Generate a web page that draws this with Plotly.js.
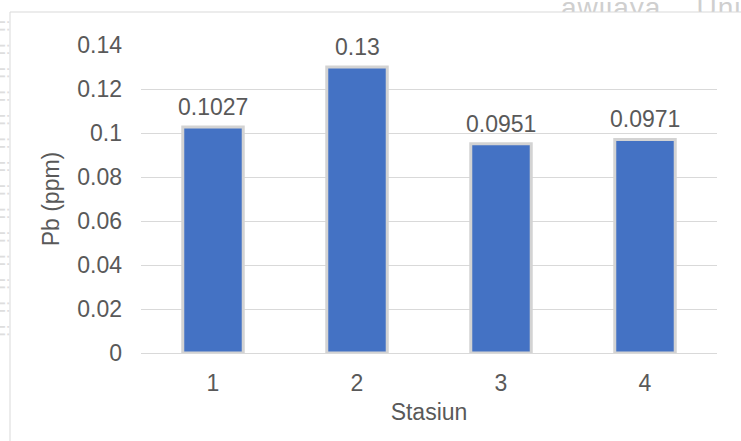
<!DOCTYPE html>
<html>
<head>
<meta charset="utf-8">
<script src="https://cdn.plot.ly/plotly-3.0.1.min.js"></script>
<style>
  html, body { margin: 0; padding: 0; background: #ffffff; }
  #wrap { position: relative; width: 741px; height: 441px; overflow: hidden; background: #ffffff; }
  #mark-top {
    position: absolute; left: 561px; top: -8px;
    font-family: "Liberation Sans", Arial, sans-serif; font-size: 28px;
    color: #cfcfcf; white-space: pre; letter-spacing: 1px;
  }
  #mark-left {
    position: absolute; left: -10px; top: 20px;
    transform-origin: 0 0; transform: rotate(90deg) translate(0, -22px);
    font-family: "Liberation Sans", Arial, sans-serif; font-size: 20px;
    color: #dedede; white-space: pre; letter-spacing: 3px;
  }
  #chart { position: absolute; left: 0; top: 0; width: 741px; height: 441px; }
</style>
</head>
<body>
<div id="wrap">
  <div id="mark-top">awijaya    Univ</div>
  <div id="mark-left">ij ij ij ij ij ij ij ij ij ij ij ij ij ij</div>
  <div id="chart"></div>
</div>
<script>
// Lead (Pb) concentration per sampling station
const stations = ['1', '2', '3', '4'];
const pbValues = [0.1027, 0.13, 0.0951, 0.0971];
const valueLabels = ['0.1027', '0.13', '0.0951', '0.0971'];
const yTickValues = [0, 0.02, 0.04, 0.06, 0.08, 0.1, 0.12, 0.14];
const yTickLabels = ['0', '0.02', '0.04', '0.06', '0.08', '0.1', '0.12', '0.14'];

const textColor = '#595959';
const fontFamily = '"Liberation Sans", Arial, sans-serif';
const fontSize = 23;

const trace = {
  type: 'bar',
  x: stations,
  y: pbValues,
  width: 0.42,
  marker: {
    color: '#4472C4',
    line: { color: '#d3d3d3', width: 3 }
  },
  hoverinfo: 'none'
};

// value labels above each bar (category index on x)
const labelAnnotations = stations.map((s, i) => ({
  x: i,
  y: pbValues[i],
  xref: 'x',
  yref: 'y',
  text: valueLabels[i],
  showarrow: false,
  yanchor: 'bottom',
  yshift: 5,
  font: { family: fontFamily, size: fontSize, color: textColor }
}));

// plot area spans x 141..717 px and y 45..353 px
const px = v => (v - 141) / 576;
const py = v => (353 - v) / 308;

const layout = {
  width: 741,
  height: 441,
  margin: { l: 141, r: 24, t: 45, b: 88 },
  paper_bgcolor: 'rgba(0,0,0,0)',
  plot_bgcolor: 'rgba(0,0,0,0)',
  showlegend: false,
  bargap: 0.58,
  font: { family: fontFamily, color: textColor },
  xaxis: {
    type: 'category',
    showgrid: false,
    showline: false,
    ticks: '',
    ticklabelstandoff: 14,
    tickfont: { family: fontFamily, size: fontSize, color: textColor },
    title: { text: 'Stasiun', font: { family: fontFamily, size: fontSize, color: textColor }, standoff: 8 }
  },
  yaxis: {
    range: [0, 0.14],
    tickvals: yTickValues,
    ticktext: yTickLabels,
    showgrid: true,
    gridcolor: '#d9d9d9',
    gridwidth: 1,
    zeroline: true,
    zerolinecolor: '#d9d9d9',
    zerolinewidth: 1,
    showline: false,
    ticks: '',
    ticklabelstandoff: 18,
    tickfont: { family: fontFamily, size: fontSize, color: textColor },
    title: { text: 'Pb (ppm)', font: { family: fontFamily, size: fontSize, color: textColor }, standoff: 11 }
  },
  annotations: labelAnnotations,
  shapes: [
    // white chart area with its light border
    { type: 'rect', layer: 'below', xref: 'paper', yref: 'paper',
      x0: px(10), x1: px(748), y0: py(448), y1: py(12),
      fillcolor: '#ffffff', line: { color: '#d9d9d9', width: 1 } }
  ]
};

Plotly.newPlot('chart', [trace], layout, { displayModeBar: false, staticPlot: true });
</script>
</body>
</html>
